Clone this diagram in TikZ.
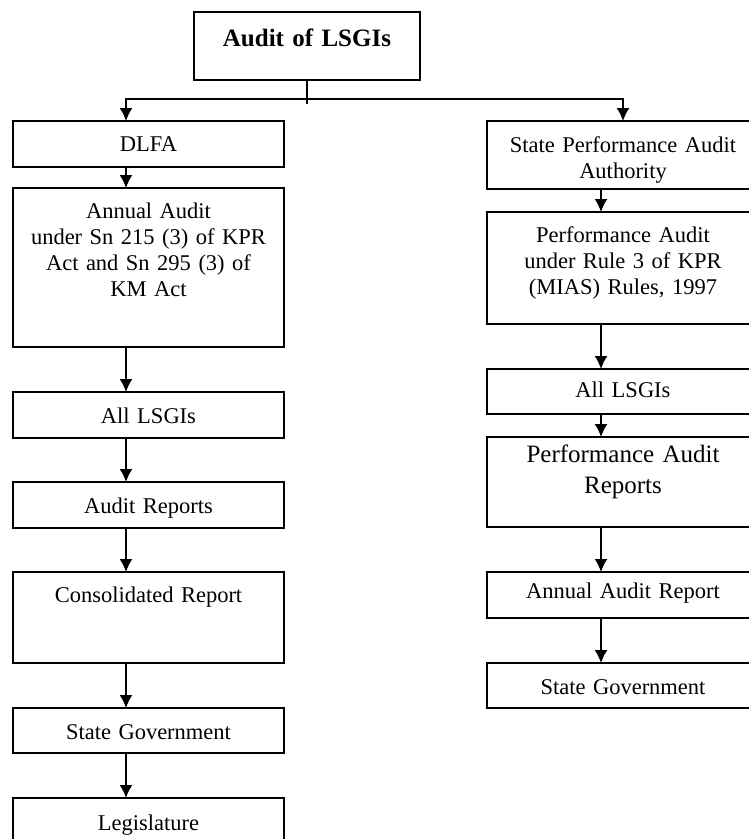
\documentclass[tikz,border=0pt]{standalone}
\usepackage{fontspec}
\setmainfont{Liberation Serif}
\usepackage{tikz}
\usetikzlibrary{arrows.meta,positioning}
\newcommand{\boxfont}{\fontsize{22.5}{26}\selectfont}
\newcommand{\bigfont}{\fontsize{25}{31}\selectfont}

\begin{document}
\begin{tikzpicture}[x=1pt, y=-1pt, >={Latex[length=13pt,width=13pt]},
    box/.style={draw, line width=1.6pt, rectangle, align=center, inner sep=0pt, outer sep=0pt, font=\boxfont},
    lbox/.style={box, minimum width=271pt, text width=262pt},
    rbox/.style={box, minimum width=272pt, text width=262pt},
    flow/.style={line width=1.6pt}]
    \useasboundingbox (0,0) rectangle (749,839);

    % top of the tree
    \node [box, minimum width=226pt, text width=220pt, text height=34pt, text depth=34pt, anchor=north, font=\bigfont\bfseries] (audit) at (307,12) {Audit of LSGIs};
    \coordinate (split) at (307,99);
    \coordinate (lx) at (126,0);
    \coordinate (rx) at (601,0);

    % left branch
    \node [lbox, text height=30pt, text depth=16pt, anchor=north] (dlfa) at (148.5,121) {DLFA};
    \node [lbox, text height=30pt, text depth=129pt, below=21pt of dlfa] (annual) {Annual Audit\\under Sn 215 (3) of KPR\\Act and Sn 295 (3) of\\KM Act};
    \node [lbox, text height=31pt, text depth=15pt, below=45pt of annual] (allL) {All LSGIs};
    \node [lbox, text height=31pt, text depth=15pt, below=44pt of allL] (reports) {Audit Reports};
    \node [lbox, text height=30pt, text depth=61pt, below=44pt of reports] (consol) {Consolidated Report};
    \node [lbox, text height=31pt, text depth=14pt, below=45pt of consol] (govL) {State Government};
    \node [lbox, text height=32pt, text depth=14pt, below=45pt of govL] (legis) {Legislature};

    % right branch
    \node [rbox, text height=31pt, text depth=37pt, anchor=north] (spaa) at (623,121) {State Performance Audit\\Authority};
    \node [rbox, text height=30pt, text depth=82pt, below=23pt of spaa] (perf) {Performance Audit\\under Rule 3 of KPR\\(MIAS) Rules, 1997};
    \node [rbox, text height=28pt, text depth=17pt, below=45pt of perf] (allR) {All LSGIs};
    \node [rbox, text height=25pt, text depth=65pt, below=23pt of allR, font=\bigfont] (perfrep) {Performance Audit\\Reports};
    \node [rbox, text height=26pt, text depth=20pt, below=45pt of perfrep] (annrep) {Annual Audit Report};
    \node [rbox, text height=31pt, text depth=14pt, below=45pt of annrep] (govR) {State Government};

    \draw [flow] (audit.south) -- ++(0,24);
    \draw [flow, ->] (split) -| (dlfa.north -| lx);
    \draw [flow, ->] (split) -| (spaa.north);

    \draw [flow, ->] (dlfa.south -| lx) -- (annual.north -| lx);
    \draw [flow, ->] (annual.south -| lx) -- (allL.north -| lx);
    \draw [flow, ->] (allL.south -| lx) -- (reports.north -| lx);
    \draw [flow, ->] (reports.south -| lx) -- (consol.north -| lx);
    \draw [flow, ->] (consol.south -| lx) -- (govL.north -| lx);
    \draw [flow, ->] (govL.south -| lx) -- (legis.north -| lx);

    \draw [flow, ->] (spaa.south -| rx) -- (perf.north -| rx);
    \draw [flow, ->] (perf.south -| rx) -- (allR.north -| rx);
    \draw [flow, ->] (allR.south -| rx) -- (perfrep.north -| rx);
    \draw [flow, ->] (perfrep.south -| rx) -- (annrep.north -| rx);
    \draw [flow, ->] (annrep.south -| rx) -- (govR.north -| rx);
\end{tikzpicture}
\end{document}
